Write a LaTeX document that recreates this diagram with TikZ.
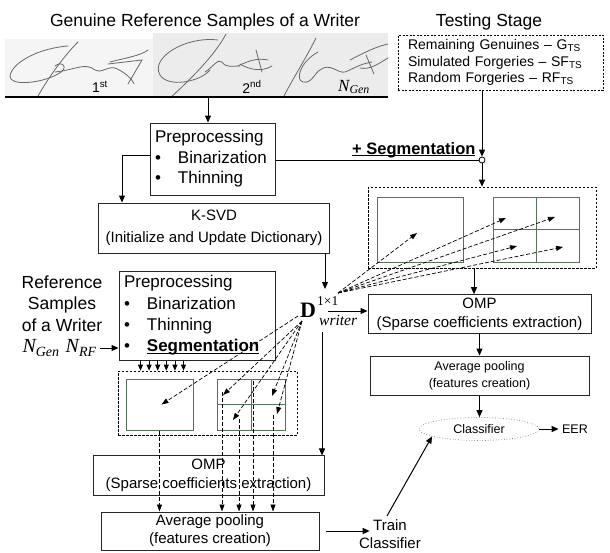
\documentclass[tikz,border=0pt]{standalone}
\usepackage{fontspec}
\setmainfont{Liberation Sans}
\newfontfamily\tnr{Liberation Serif}
\usetikzlibrary{arrows.meta,shapes.geometric,positioning,calc}
\definecolor{cellgreen}{RGB}{84,114,92}
\definecolor{sigpaper}{RGB}{236,236,236}
\definecolor{sigink}{RGB}{105,105,105}
\newcommand{\fsz}[2]{\fontsize{#1}{#2}\selectfont}
\newcommand{\thickul}[1]{\setbox0=\hbox{#1}\rlap{\rule[-2.4pt]{\wd0}{1.5pt}}\box0}
\newcommand{\tsub}[1]{\textsubscript{\fsz{10}{10}#1}}
\tikzset{
	box/.style={draw=black!85,line width=1pt,inner sep=3pt},
	dbox/.style={draw=black,dash pattern=on 2.5pt off 1.5pt,line width=0.7pt},
	tbox/.style={draw=black,dash pattern=on 2pt off 1.5pt,line width=0.7pt},
	cell/.style={draw=cellgreen,line width=1pt},
	arr/.style={line width=1pt,-{Triangle[length=7pt,width=6pt]}},
	sarr/.style={line width=0.8pt,-{Triangle[length=6pt,width=5pt]}},
	darr/.style={line width=0.7pt,dash pattern=on 4pt off 2pt,-{Triangle[length=7pt,width=5pt]}},
	ink/.style={draw=sigink,line width=0.8pt,line cap=round}
}

\begin{document}
\begin{tikzpicture}[x=1pt,y=-1pt]
	\useasboundingbox (0,0) rectangle (610,552);

	% reference samples of the writer
	\node[font=\fsz{17.5}{20}] (gtitle) at (205,22) {Genuine Reference Samples of a Writer};
	\fill[sigpaper!55] (5,39) rectangle (153,97);
	\fill[sigpaper] (153,33) rectangle (388,97);
	% first signature
	\draw[ink] (38,96) .. controls (50,75) and (65,55) .. (78,42);
	\draw[ink] (68,46) .. controls (40,48) and (12,62) .. (10,76) .. controls (9,86) and (40,84) .. (58,74) .. controls (70,68) and (62,60) .. (55,66);
	\draw[ink] (55,72) .. controls (75,70) and (85,62) .. (95,70) .. controls (100,74) and (108,66) .. (115,68);
	\draw[ink] (108,64) -- (142,60) -- (128,84);
	\draw[ink] (115,68) .. controls (125,72) and (133,80) .. (134,84);
	\draw[ink] (110,62) .. controls (125,58) and (140,56) .. (148,50);
	% second signature
	\draw[ink] (226,34) .. controls (215,55) and (190,80) .. (170,98);
	\draw[ink] (218,40) .. controls (185,36) and (150,58) .. (160,75) .. controls (168,88) and (200,82) .. (210,70);
	\draw[ink] (205,72) .. controls (212,68) and (218,58) .. (222,62) .. controls (226,68) and (232,66) .. (240,66);
	\draw[ink] (238,66) .. controls (250,60) and (258,58) .. (268,60);
	\draw[ink] (256,50) -- (262,72);
	\draw[ink] (240,64) .. controls (250,70) and (262,72) .. (272,66);
	% third signature
	\draw[ink] (316,38) .. controls (305,60) and (292,80) .. (283,98);
	\draw[ink] (318,52) .. controls (300,62) and (295,80) .. (303,82) .. controls (312,84) and (315,72) .. (320,70);
	\draw[ink] (320,70) .. controls (330,62) and (338,74) .. (345,72) .. controls (355,68) and (360,64) .. (372,62);
	\draw[ink] (366,55) -- (374,74);
	\draw[ink] (360,68) .. controls (370,70) and (378,64) .. (388,58);
	\draw[ink] (350,60) .. controls (365,52) and (378,46) .. (388,44);
	\draw[line width=1.8pt] (5,97) -- (388,97);
	\node[font=\fsz{14}{14}] (s1) at (100,87) {1\textsuperscript{st}};
	\node[font=\fsz{14}{14}] (s2) at (252,87) {2\textsuperscript{nd}};
	\node[font=\tnr\itshape\fsz{17}{17}] (sn) at (354,87) {N\textsubscript{Gen}};
	\coordinate (sigbot) at (208,97);

	% testing stage
	\node[font=\fsz{17.5}{20}] (tsttl) at (489,22) {Testing Stage};
	\node[tbox,minimum width=205pt,minimum height=55pt,text width=185pt,align=left,font=\fsz{14}{16.5}] (tsbox) at (500.5,62.5)
		{Remaining Genuines – G\tsub{TS}\\Simulated Forgeries – SF\tsub{TS}\\Random Forgeries – RF\tsub{TS}};

	% preprocessing and dictionary learning
	\node[box,minimum width=125pt,minimum height=72pt,text width=115pt,align=left,font=\fsz{17}{20.5}] (pre1) at (212.5,159)
		{Preprocessing\\\textbullet\quad Binarization\\\textbullet\quad Thinning};
	\node[box,minimum width=231pt,minimum height=50pt,align=center,font=\fsz{15}{22}] (ksvd) at (214,228)
		{K-SVD\\(Initialize and Update Dictionary)};
	\node[circle,draw,fill=white,inner sep=0pt,minimum size=6pt,line width=0.8pt] (jn) at (482,160) {};
	\node[anchor=base east,font=\bfseries\fsz{16.5}{16.5}] (segtxt) at (479,154) {\thickul{+ Segmentation}};

	% training side
	\node[font=\fsz{17.5}{21.5},align=center] (refw) at (62,303.5) {Reference\\Samples\\of a Writer};
	\node[anchor=west,font=\tnr\itshape\fsz{20}{20}] (nref) at (19,348) {N\textsubscript{Gen}\hspace{6pt}N\textsubscript{RF}};
	\node[box,minimum width=156pt,minimum height=89pt,text width=146pt,align=left,font=\fsz{17}{21.3}] (pre2) at (197,315.5)
		{Preprocessing\\\textbullet\quad Binarization\\\textbullet\quad Thinning\\\textbullet\quad \textbf{\thickul{Segmentation}}};
	\node[dbox,minimum width=179pt,minimum height=64pt] (segL) at (207.5,403) {};
	\node[cell,minimum width=67pt,minimum height=51pt] (cellA) at (159.5,404.5) {};
	\node[cell,minimum width=68pt,minimum height=51pt] (cellB) at (251,404.5) {};
	\draw[cell] (cellB.north) -- (cellB.south) (cellB.west) -- (cellB.east);
	\node[box,minimum width=231pt,minimum height=39pt,align=center,font=\fsz{15}{19.5}] (ompL) at (208.5,475.5)
		{OMP\\(Sparse coefficients extraction)};
	\node[box,minimum width=218pt,minimum height=38pt,align=center,font=\fsz{15}{18}] (avgL) at (210,531)
		{Average pooling\\(features creation)};
	\node[font=\fsz{15}{15}] (trn) at (390,525) {Train};
	\node[font=\fsz{15}{15}] (trncls) at (390,543) {Classifier};

	% testing side
	\node[dbox,minimum width=228pt,minimum height=81pt] (segR) at (482,227.5) {};
	\node[cell,minimum width=86pt,minimum height=65pt] (cellC) at (420,229.5) {};
	\node[cell,minimum width=86pt,minimum height=65pt] (cellD) at (536,229.5) {};
	\draw[cell] (cellD.north) -- (cellD.south) (cellD.west) -- (cellD.east);
	\node[box,minimum width=223pt,minimum height=38pt,align=center,font=\fsz{15}{19}] (ompR) at (479.5,314)
		{OMP\\(Sparse coefficients extraction)};
	\node[box,minimum width=219pt,minimum height=39pt,align=center,font=\fsz{12.5}{17}] (avgR) at (479.5,375.5)
		{Average pooling\\(features creation)};
	\node[ellipse,draw=gray,dotted,line width=0.7pt,minimum width=120pt,minimum height=23pt,font=\fsz{12.5}{12.5}] (cls) at (479,429) {Classifier};
	\node[font=\fsz{12.5}{12.5}] (eer) at (575,429) {EER};

	% dictionary
	\node[inner sep=0pt,font=\tnr\bfseries\fsz{22}{22}] (dict) at (308,310) {D};
	\node[anchor=west,inner sep=0pt,font=\tnr\fsz{13.5}{13.5}] (dsup) at (317,301) {1×1};
	\node[anchor=west,inner sep=0pt,font=\tnr\itshape\fsz{15.5}{15.5}] (dsub) at (319,320) {writer};
	\coordinate (dtop) at (325,289);
	\coordinate (dright) at (328,311);
	\coordinate (dbot) at (322,332);
	\coordinate (dne) at (338,293);
	\coordinate (dsw) at (302,321);

	% connectors
	\draw[arr] (sigbot) -- (sigbot |- pre1.north);
	\draw[arr] ([yshift=4pt]pre1.west) -| ([xshift=24pt]ksvd.north west);
	\draw[line width=1pt] (pre1.east |- jn) -- (jn.west);
	\draw[arr] (tsbox.south -| jn) -- (jn.north);
	\draw[arr] (jn.south) -- (segR.north);
	\draw[arr] (dtop |- ksvd.south) -- (dtop);
	\draw[arr] (dright) -- (dright -| ompR.west);
	\draw[arr] (dbot) -- (dbot |- ompL.north);
	\draw[arr] ([xshift=-8pt]segR.south) coordinate (sr) -- (sr |- ompR.north);
	\draw[arr] (ompR.south) -- (avgR.north);
	\draw[arr] (avgR.south) -- (avgR.south |- cls.north);
	\draw[arr] (cls.east) -- (eer.west);
	\draw[arr] (nref.east) -- (nref.east -| pre2.west);
	\foreach \i in {0,...,5}
		\draw[sarr] ([xshift={22+8.6*\i}]pre2.south west) coordinate (sa) -- (sa |- segL.north);
	\draw[arr] ([xshift=6pt]avgL.east) -- (trn.west |- avgL.east);
	\draw[arr] ([xshift=-3pt]trn.north) -- (cls.189);

	% atoms to the cells
	\draw[darr] (dne) -- ([shift={(-3,3.5)}]cellC.center);
	\foreach \dx/\dy in {-30/-11.5,19/-12.5,-19/16.5,27/17.5}
		\draw[darr] (dne) -- ([shift={(\dx,\dy)}]cellD.center);
	\draw[darr] ([shift={(-4,-5)}]dsw) -- ([shift={(2,0)}]cellA.center);
	\foreach \dx/\dy in {-28/-9.5,-18/15.5,21/-8.5,26/9.5}
		\draw[darr] (dsw) -- ([shift={(\dx,\dy)}]cellB.center);
	\draw[darr] (cellA.south) -- (cellA.south |- avgL.north);
	\foreach \dx/\dy in {-29/-12.5,-12/14.5,2/-24,22/10.5}
		\draw[darr] ([shift={(\dx,\dy)}]cellB.center) coordinate (vs) -- (vs |- avgL.north);
\end{tikzpicture}
\end{document}
